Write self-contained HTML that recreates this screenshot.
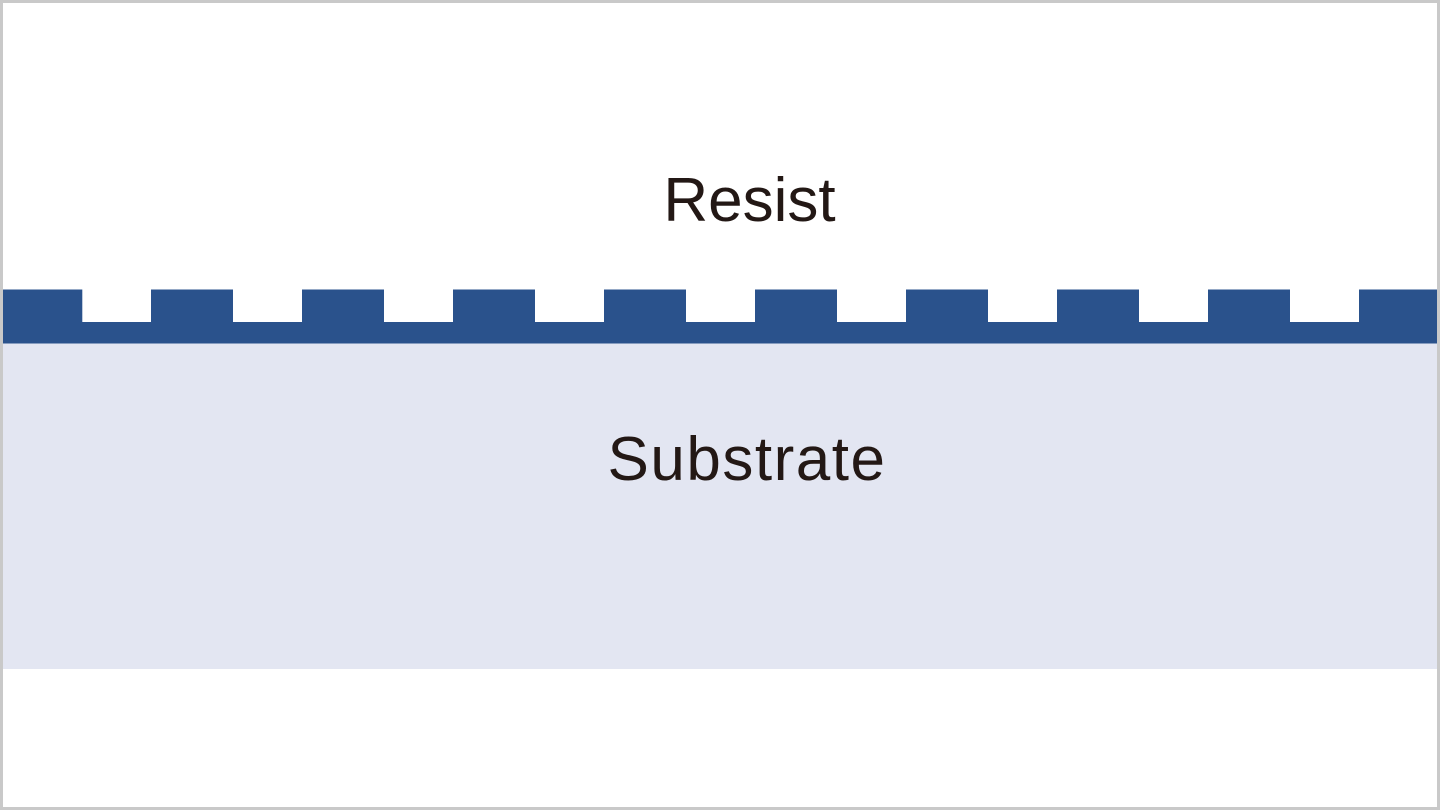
<!DOCTYPE html>
<html>
<head>
<meta charset="utf-8">
<style>
  html,body{margin:0;padding:0;background:#fff;}
  body{width:1440px;height:810px;overflow:hidden;}
  svg{display:block;}
</style>
</head>
<body>
<svg width="1440" height="810" viewBox="0 0 1440 810" xmlns="http://www.w3.org/2000/svg">
  <rect x="0" y="0" width="1440" height="810" fill="#c9c9c9"/>
  <rect x="3" y="3" width="1434" height="804" fill="#ffffff"/>
  <!-- substrate -->
  <rect x="3" y="343" width="1434" height="326" fill="#e3e6f2"/>
  <!-- resist band base -->
  <rect x="3" y="322" width="1434" height="21.5" fill="#2a528c"/>
  <!-- teeth -->
  <g fill="#2a528c">
    <rect x="3" y="289.5" width="79.3" height="33"/>
    <rect x="151" y="289.5" width="82" height="33"/>
    <rect x="302" y="289.5" width="82" height="33"/>
    <rect x="453" y="289.5" width="82" height="33"/>
    <rect x="604" y="289.5" width="82" height="33"/>
    <rect x="755" y="289.5" width="82" height="33"/>
    <rect x="906" y="289.5" width="82" height="33"/>
    <rect x="1057" y="289.5" width="82" height="33"/>
    <rect x="1208" y="289.5" width="82" height="33"/>
    <rect x="1359" y="289.5" width="78" height="33"/>
  </g>
  <text x="749.5" y="221" text-anchor="middle" font-family="'Liberation Sans', sans-serif" font-size="62" fill="#231815">Resist</text>
  <text x="747" y="480" text-anchor="middle" font-family="'Liberation Sans', sans-serif" font-size="62" letter-spacing="1.5" fill="#231815">Substrate</text>
</svg>
</body>
</html>
